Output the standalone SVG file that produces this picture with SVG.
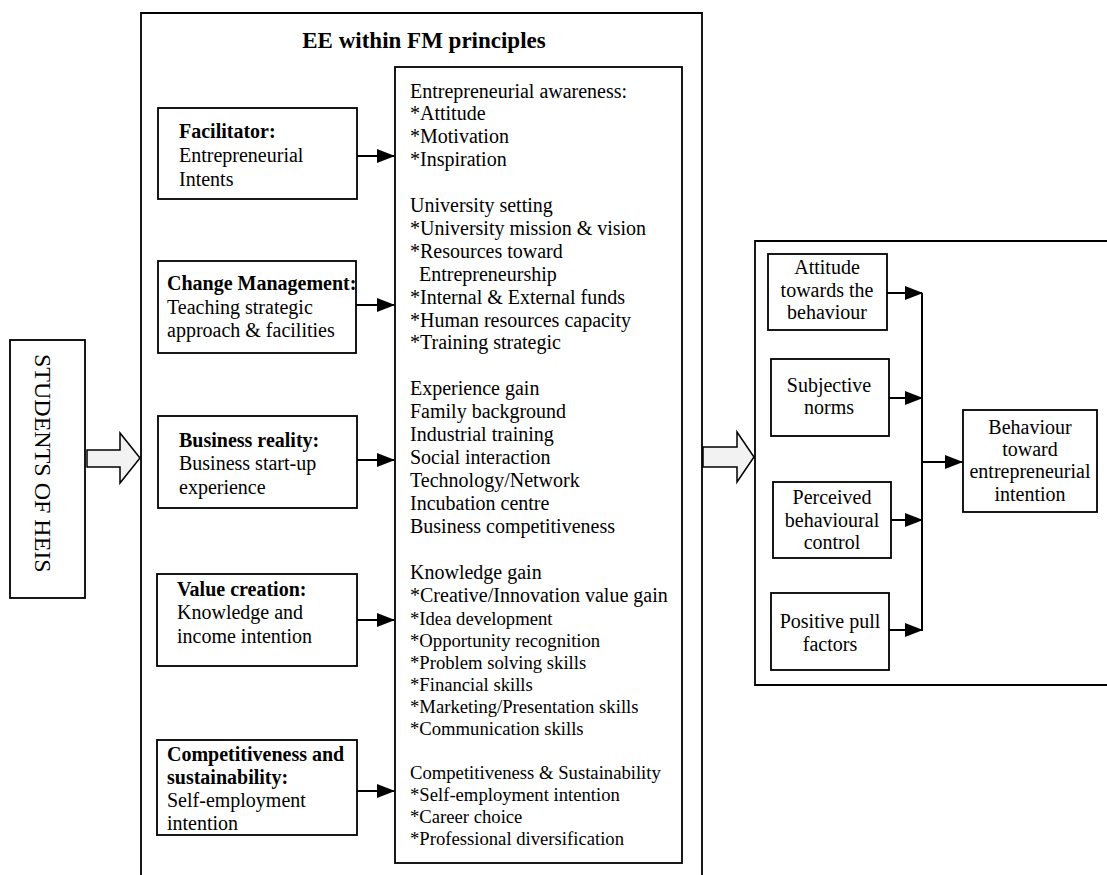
<svg xmlns="http://www.w3.org/2000/svg" width="1107" height="875" viewBox="0 0 1107 875">
<style>
  .box { fill: #ffffff; stroke: #000; stroke-width: 1.8; }
  .frame { fill: none; stroke: #000; stroke-width: 1.8; }
  .t { font-family: "Liberation Serif", "Times New Roman", serif; font-size: 20px; fill: #000; }
  .s { font-size: 18.67px; }
  .b { font-weight: bold; }
  .c { text-anchor: middle; }
  .con { stroke: #000; stroke-width: 2; fill: none; }
  .hollow { fill: #f2f2f2; stroke: #000; stroke-width: 1.5; }
</style>
<defs>
  <marker id="ah" markerUnits="userSpaceOnUse" markerWidth="18" markerHeight="14" refX="17" refY="7" orient="auto">
    <path d="M0,0 L18,7 L0,14 z" fill="#000"/>
  </marker>
</defs>
<rect width="1107" height="875" fill="#ffffff"/>

<g id="students">
  <rect class="box" x="10" y="340" width="75" height="258"/>
  <text class="t" style="font-size:24px" transform="translate(35,354) rotate(90)" x="0" y="0">STUDENTS OF HEIS</text>
</g>

<g id="ee-frame">
  <path class="frame" d="M141,880 L141,13 L702,13 L702,880"/>
  <text class="t b c" style="font-size:23px" x="424" y="48">EE within FM principles</text>
</g>

<g id="facilitator">
  <rect class="box" x="158" y="108" width="199" height="91"/>
  <text class="t" x="179" y="138"><tspan class="b">Facilitator:</tspan><tspan x="179" y="162">Entrepreneurial</tspan><tspan x="179" y="186">Intents</tspan></text>
</g>

<g id="change-management">
  <rect class="box" x="158" y="261" width="198" height="92"/>
  <text class="t" x="167" y="290"><tspan class="b">Change Management:</tspan><tspan x="167" y="314">Teaching strategic</tspan><tspan x="167" y="337">approach &amp; facilities</tspan></text>
</g>

<g id="business-reality">
  <rect class="box" x="158" y="416" width="199" height="92"/>
  <text class="t" x="179" y="447"><tspan class="b">Business reality:</tspan><tspan x="179" y="470">Business start-up</tspan><tspan x="179" y="494">experience</tspan></text>
</g>

<g id="value-creation">
  <rect class="box" x="157" y="574" width="200" height="92"/>
  <text class="t" x="177" y="596"><tspan class="b">Value creation:</tspan><tspan x="177" y="619">Knowledge and</tspan><tspan x="177" y="643">income intention</tspan></text>
</g>

<g id="competitiveness">
  <rect class="box" x="157" y="740" width="200" height="95"/>
  <text class="t" x="167" y="761"><tspan class="b">Competitiveness and</tspan><tspan class="b" x="167" y="784">sustainability:</tspan><tspan x="167" y="807">Self-employment</tspan><tspan x="167" y="830">intention</tspan></text>
</g>

<g id="content-list">
  <rect class="box" x="395" y="67" width="287" height="796"/>
  <text class="t" x="410">
    <tspan x="410" y="97.5">Entrepreneurial awareness:</tspan>
    <tspan x="410" y="120.4">*Attitude</tspan>
    <tspan x="410" y="143.3">*Motivation</tspan>
    <tspan x="410" y="166.2">*Inspiration</tspan>
    <tspan x="410" y="212">University setting</tspan>
    <tspan x="410" y="234.9">*University mission &amp; vision</tspan>
    <tspan x="410" y="257.8">*Resources toward</tspan>
    <tspan x="419" y="280.7">Entrepreneurship</tspan>
    <tspan x="410" y="303.6">*Internal &amp; External funds</tspan>
    <tspan x="410" y="326.5">*Human resources capacity</tspan>
    <tspan x="410" y="349.4">*Training strategic</tspan>
    <tspan x="410" y="395.2">Experience gain</tspan>
    <tspan x="410" y="418.1">Family background</tspan>
    <tspan x="410" y="441">Industrial training</tspan>
    <tspan x="410" y="463.9">Social interaction</tspan>
    <tspan x="410" y="486.8">Technology/Network</tspan>
    <tspan x="410" y="509.7">Incubation centre</tspan>
    <tspan x="410" y="532.6">Business competitiveness</tspan>
    <tspan x="410" y="579">Knowledge gain</tspan>
    <tspan x="410" y="602">*Creative/Innovation value gain</tspan>
  </text>
  <text class="t s" x="410">
    <tspan x="410" y="625">*Idea development</tspan>
    <tspan x="410" y="647">*Opportunity recognition</tspan>
    <tspan x="410" y="669">*Problem solving skills</tspan>
    <tspan x="410" y="691">*Financial skills</tspan>
    <tspan x="410" y="713">*Marketing/Presentation skills</tspan>
    <tspan x="410" y="735">*Communication skills</tspan>
    <tspan x="410" y="779">Competitiveness &amp; Sustainability</tspan>
    <tspan x="410" y="801">*Self-employment intention</tspan>
    <tspan x="410" y="823">*Career choice</tspan>
    <tspan x="410" y="845">*Professional diversification</tspan>
  </text>
</g>

<g id="tpb-frame">
  <path class="frame" d="M1110,241 L755,241 L755,685 L1110,685"/>
</g>

<g id="attitude">
  <rect class="box" x="768" y="254" width="119" height="76"/>
  <text class="t c" x="827" y="274"><tspan x="827">Attitude</tspan><tspan x="827" y="297">towards the</tspan><tspan x="827" y="319">behaviour</tspan></text>
</g>

<g id="subjective-norms">
  <rect class="box" x="771" y="359" width="118" height="77"/>
  <text class="t c" x="829" y="392"><tspan x="829">Subjective</tspan><tspan x="829" y="414">norms</tspan></text>
</g>

<g id="perceived-control">
  <rect class="box" x="773" y="482" width="118" height="76"/>
  <text class="t c" x="832" y="504"><tspan x="832">Perceived</tspan><tspan x="832" y="527">behavioural</tspan><tspan x="832" y="549">control</tspan></text>
</g>

<g id="positive-pull">
  <rect class="box" x="771" y="593" width="118" height="77"/>
  <text class="t c" x="830" y="628"><tspan x="830">Positive pull</tspan><tspan x="830" y="651">factors</tspan></text>
</g>

<g id="behaviour">
  <rect class="box" x="963" y="410" width="134" height="102"/>
  <text class="t c" x="1030" y="434"><tspan x="1030">Behaviour</tspan><tspan x="1030" y="456">toward</tspan><tspan x="1030" y="478">entrepreneurial</tspan><tspan x="1030" y="501">intention</tspan></text>
</g>

<g id="connectors">
  <polygon class="hollow" points="87,450 120,450 120,433 140,458 120,483 120,467 87,467"/>
  <polygon class="hollow" points="703,447 737,447 737,432 754,457 737,482 737,467 703,467"/>
  <line class="con" x1="357" y1="156" x2="394" y2="156" marker-end="url(#ah)"/>
  <line class="con" x1="356" y1="305" x2="394" y2="305" marker-end="url(#ah)"/>
  <line class="con" x1="357" y1="460" x2="394" y2="460" marker-end="url(#ah)"/>
  <line class="con" x1="357" y1="620" x2="394" y2="620" marker-end="url(#ah)"/>
  <line class="con" x1="357" y1="791" x2="394" y2="791" marker-end="url(#ah)"/>
  <line class="con" x1="922" y1="293" x2="922" y2="631"/>
  <line class="con" x1="887" y1="293" x2="922" y2="293" marker-end="url(#ah)"/>
  <line class="con" x1="889" y1="398" x2="922" y2="398" marker-end="url(#ah)"/>
  <line class="con" x1="891" y1="520" x2="922" y2="520" marker-end="url(#ah)"/>
  <line class="con" x1="889" y1="630" x2="922" y2="630" marker-end="url(#ah)"/>
  <line class="con" x1="922" y1="462" x2="962" y2="462" marker-end="url(#ah)"/>
</g>
</svg>
